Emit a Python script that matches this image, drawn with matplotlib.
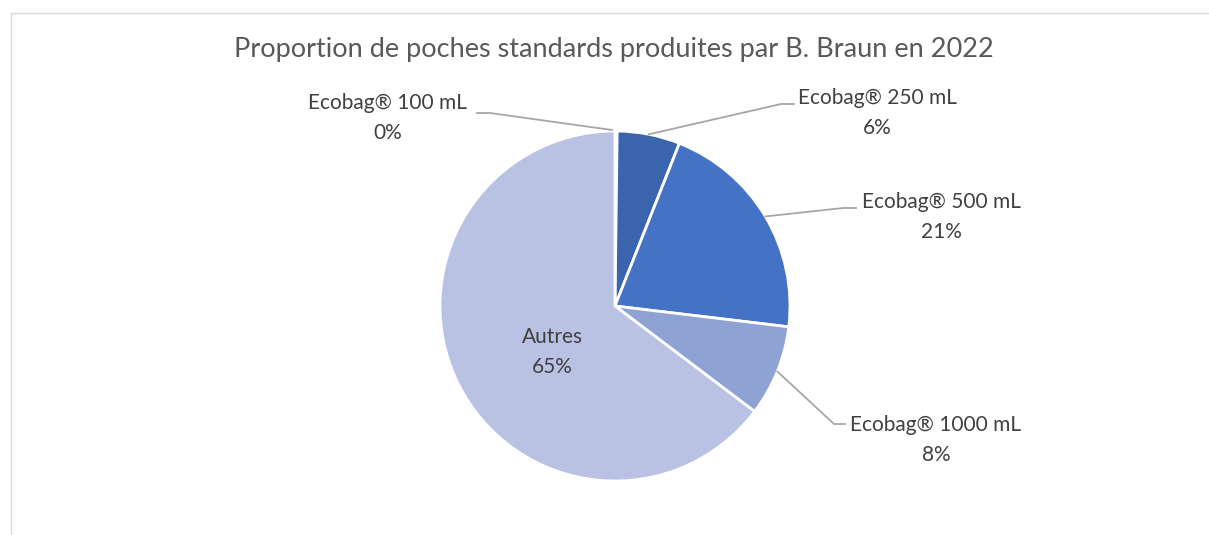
import numpy as np
import matplotlib
matplotlib.use('Agg')
import matplotlib.pyplot as plt
from matplotlib.lines import Line2D

plt.rcParams['font.family'] = ['Lato', 'DejaVu Sans']

# données (part de la production, %)
categories = ['Ecobag® 100 mL', 'Ecobag® 250 mL', 'Ecobag® 500 mL', 'Ecobag® 1000 mL', 'Autres']
values = [0.2, 5.8, 20.9, 8.4, 64.7]
colors = ['#2F5597', '#3A64AC', '#4472C4', '#8FA2D4', '#B9C2E3']

W, H = 1209, 535
CX, CY, R = 615, 306, 175   # centre et rayon du camembert en pixels

fig = plt.figure(figsize=(W / 100, H / 100), dpi=100)
ax = fig.add_axes([0, 0, 1, 1])

wedges, _ = ax.pie(values, colors=colors, startangle=90, counterclock=False,
                   wedgeprops=dict(edgecolor='white', linewidth=2))
ax.set_xlim(-CX / R, (W - CX) / R)
ax.set_ylim(-(H - CY) / R, CY / R)
ax.axis('off')

def px(x, y):
    return (x - CX) / R, (CY - y) / R

# position des étiquettes (pixels) et coude du trait (x extrémité, x coude, y)
label_pos = [(388, 118), (877, 113), (941, 217), (936, 440), (552, 352)]
leader = [(477, 490, 113), (794, 781, 104), (856, 843, 208), (845, 834, 424), None]

for i, w in enumerate(wedges):
    txt = f"{categories[i]}\n{values[i]:.0f}%"
    lx, ly = px(*label_pos[i])
    ax.text(lx, ly, txt, ha='center', va='center', fontsize=15,
            color='#404040', linespacing=1.65)
    if leader[i] is None:
        continue
    ang = np.deg2rad((w.theta1 + w.theta2) / 2)
    ex, ey = np.cos(ang), np.sin(ang)
    if i == 0:
        ex, ey = px(612, 130)
    x0, x1, yl = leader[i]
    (ax0, ay), (ax1, _) = px(x0, yl), px(x1, yl)
    ax.plot([ax0, ax1, ex], [ay, ay, ey], color='#A6A6A6', lw=1.3)

fig.text(614 / W, 1 - 50 / H, 'Proportion de poches standards produites par B. Braun en 2022',
         ha='center', va='center', fontsize=19.5, color='#595959')

# cadre du graphique
fig.add_artist(Line2D([10.5 / W, 1], [1 - 12.5 / H, 1 - 12.5 / H], color='#D9D9D9', lw=1))
fig.add_artist(Line2D([10.5 / W, 10.5 / W], [0, 1 - 12.5 / H], color='#D9D9D9', lw=1))

plt.savefig('out.png', dpi=100)
plt.close()
